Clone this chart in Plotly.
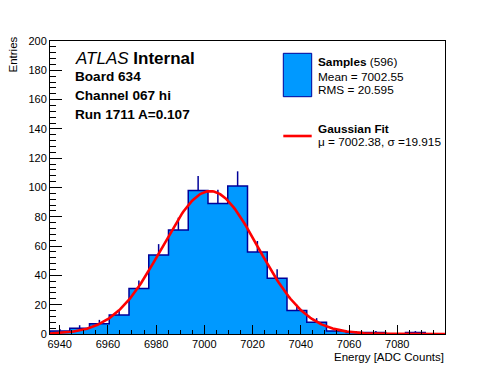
import numpy as np
import plotly.graph_objects as go

# ---- data ----
x_lo = 6936.0
x_hi = 7099.8
counts = [2, 4, 7, 13, 31, 54, 71, 98, 89, 101, 56, 38, 16, 8, 2, 1, 1, 0, 1, 0]
fit_mu = 7002.38
fit_sigma = 19.915
fit_amp = 97.5
y_ticks = [0, 20, 40, 60, 80, 100, 120, 140, 160, 180, 200]
x_ticks = [6940, 6960, 6980, 7000, 7020, 7040, 7060, 7080]

FILL = "#0099ff"
NAVY = "#000099"
FONT = "Liberation Sans, Arial, Helvetica, sans-serif"

n = len(counts)
edges = np.linspace(x_lo, x_hi, n + 1)
centers = 0.5 * (edges[:-1] + edges[1:])
errs = np.sqrt(np.array(counts, dtype=float))

fig = go.Figure()

# error bars (drawn first so the fill hides their lower half)
fig.add_trace(go.Scatter(
    x=centers, y=counts, mode="markers",
    marker=dict(size=1, color="rgba(0,0,0,0)"),
    error_y=dict(type="data", array=errs, width=0, color=NAVY, thickness=1.5),
    showlegend=False, hoverinfo="skip"))

# filled step histogram
step_x = [edges[0]] + list(edges[:-1]) + [edges[-1]]
step_y = [0] + list(counts) + [0]
fig.add_trace(go.Scatter(
    x=step_x, y=step_y, mode="lines", line=dict(shape="hv", color=NAVY, width=1.5),
    fill="tozeroy", fillcolor=FILL, showlegend=False, hoverinfo="skip"))

# Gaussian fit curve
gx = np.linspace(x_lo, x_hi, 300)
gy = fit_amp * np.exp(-0.5 * ((gx - fit_mu) / fit_sigma) ** 2)
fig.add_trace(go.Scatter(x=gx, y=gy, mode="lines", line=dict(color="#ff0000", width=2.6),
                         showlegend=False, hoverinfo="skip"))

L, R, T, B = 50, 51, 41, 38
W, H = 496, 372
pw, ph = W - L - R, H - T - B


def px(xp):
    return (xp - L) / pw


def py(yp):
    return (H - B - yp) / ph


annotations = []


def txt(text, xp, yp, size, xanchor="left", yanchor="middle", angle=0):
    annotations.append(dict(text=text, x=px(xp), y=py(yp), xref="paper", yref="paper",
                            xanchor=xanchor, yanchor=yanchor, showarrow=False,
                            textangle=angle, font=dict(family=FONT, size=size, color="black")))


txt("<i>ATLAS</i> <b>Internal</b>", 73, 58.3, 17)
txt("<b>Board 634</b>", 73, 76.7, 13.6)
txt("<b>Channel 067 hi</b>", 73, 95.3, 13.6)
txt("<b>Run 1711 A=0.107</b>", 73, 114, 13.6)

txt("<b>Samples</b> (596)", 316, 61.7, 11.8)
txt("Mean = 7002.55", 316, 76.7, 11.8)
txt("RMS = 20.595", 316, 90.3, 11.8)
txt("<b>Gaussian Fit</b>", 316, 129.3, 11.8)
txt("\u03bc = 7002.38, \u03c3 =19.915", 316, 141.7, 11.8)

txt("Entries", 12.5, 35, 11.5, xanchor="center", yanchor="top", angle=-90)
txt("Energy [ADC Counts]", 446, 357, 11.5, xanchor="right", yanchor="middle")

shapes = [
    dict(type="rect", xref="paper", yref="paper", x0=px(283.3), x1=px(311.7),
         y0=py(96.7), y1=py(53.3), fillcolor=FILL, line=dict(color=NAVY, width=1)),
    dict(type="line", xref="paper", yref="paper", x0=px(283.3), x1=px(311.7),
         y0=py(136), y1=py(136), line=dict(color="#ff0000", width=2.6)),
]

axis_common = dict(showgrid=False, zeroline=False, showline=True, mirror=True,
                   linecolor="black", linewidth=1, ticks="inside", tickcolor="black",
                   tickwidth=1, layer="above traces",
                   tickfont=dict(family=FONT, size=11, color="black"))

fig.update_layout(
    width=W, height=H,
    margin=dict(l=L, r=R, t=T, b=B, pad=0),
    paper_bgcolor="white", plot_bgcolor="white",
    annotations=annotations, shapes=shapes,
    xaxis=dict(range=[x_lo, x_hi], tickvals=x_ticks, ticklen=9,
               minor=dict(dtick=5, tick0=6940, ticklen=4.5, ticks="inside", tickcolor="black",
                          showgrid=False),
               **axis_common),
    yaxis=dict(range=[0, 200], tickvals=y_ticks, ticklen=12,
               minor=dict(dtick=4, tick0=0, ticklen=6, ticks="inside", tickcolor="black",
                          showgrid=False),
               **axis_common),
)

fig.write_html("out.html", config={"displayModeBar": False},
               post_script="document.body.style.margin='0';document.body.style.overflow='hidden';")
